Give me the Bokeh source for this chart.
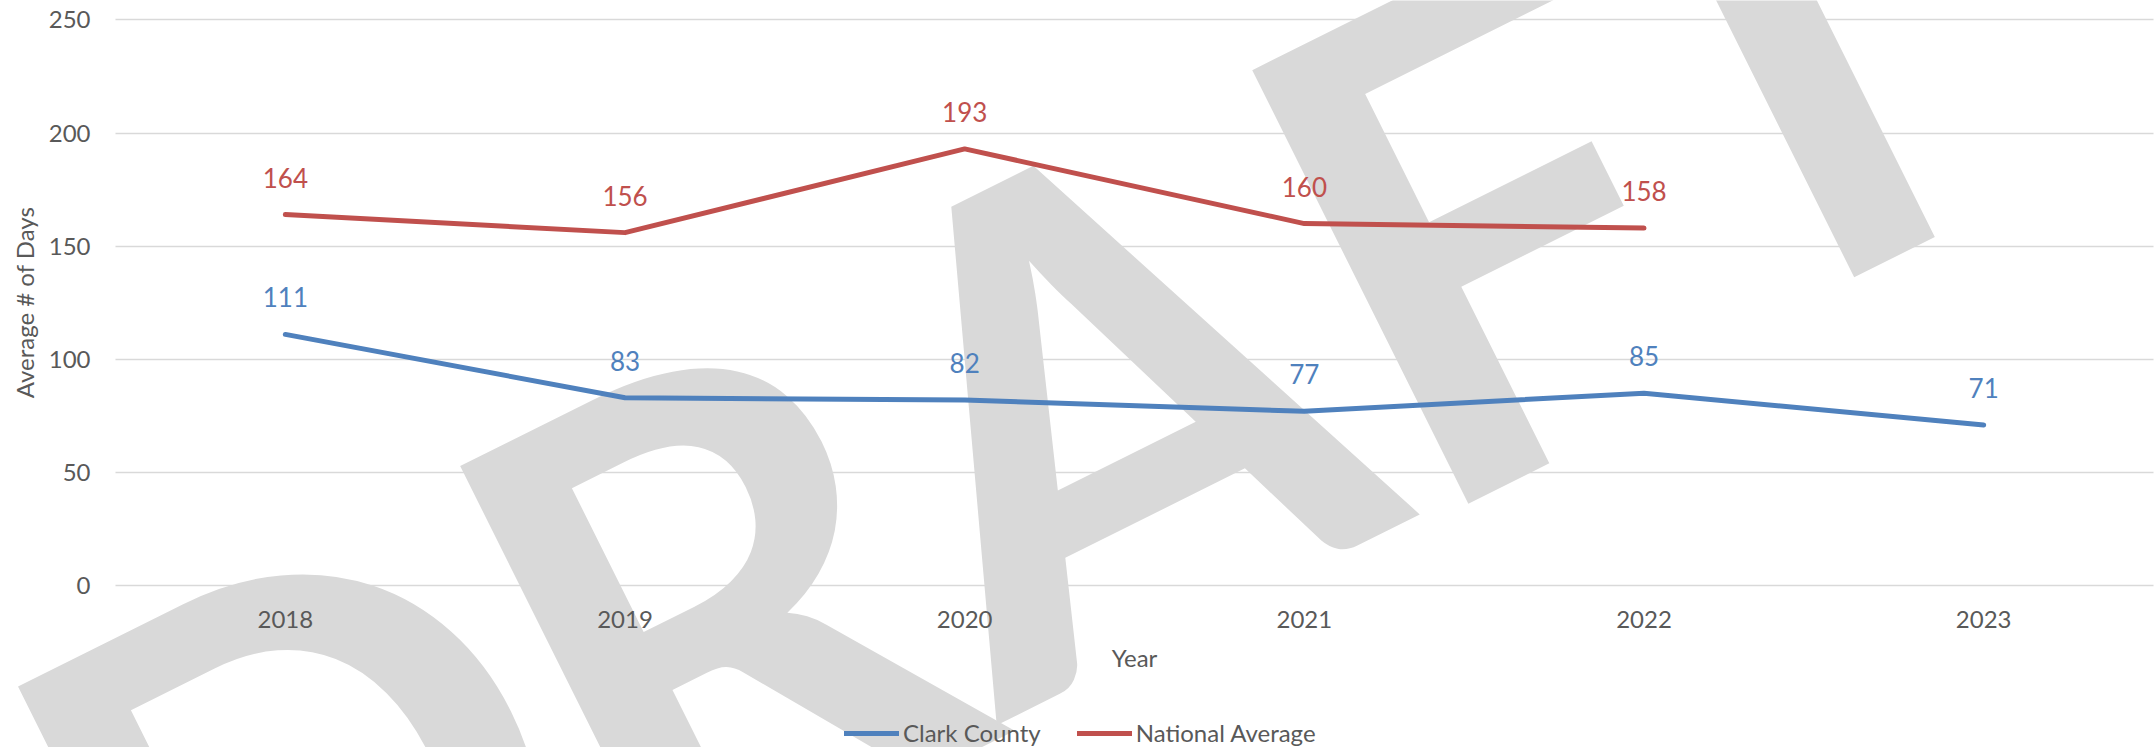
from bokeh.plotting import figure
from bokeh.models import (ColumnDataSource, Range1d, Legend, LegendItem,
                          Label, FixedTicker)
from bokeh.core.properties import value
from bokeh.embed import file_html
from bokeh.resources import INLINE

# ---------------- data ----------------
years = ["2018", "2019", "2020", "2021", "2022", "2023"]
clark_county = [111, 83, 82, 77, 85, 71]
national_years = ["2018", "2019", "2020", "2021", "2022"]
national_average = [164, 156, 193, 160, 158]
y_ticks = [0, 50, 100, 150, 200, 250]

# watermark (decoration): letters and their anchor points in data coordinates
wm_letters = ["D", "R", "A", "F", "T"]
wm_x = [0.038, 1.236, 2.377, 3.50, 4.397]
wm_y = [-94.2, -4.5, 87.3, 165.4, 247.6]

# ---------------- style ----------------
BLUE = "#4F81BD"
RED = "#C0504D"
GRID = "#D9D9D9"
TEXT = "#595959"
WM = "#D9D9D9"
FONT = "Lato"

x_index = {y: i for i, y in enumerate(years)}

p = figure(width=2155, height=747,
           x_range=Range1d(-0.8386, 5.5059),
           y_range=Range1d(-71.62, 258.62),
           output_backend="svg", toolbar_location=None,
           min_border_left=0, min_border_right=0,
           min_border_top=0, min_border_bottom=0)
p.outline_line_color = None
p.background_fill_color = "white"
p.border_fill_color = "white"

p.xgrid.grid_line_color = None
p.ygrid.grid_line_color = GRID
p.ygrid.grid_line_width = 1.3
p.ygrid.bounds = (-1, 251)
p.ygrid.cross_bounds = (-0.5, 5.5)

p.xaxis.ticker = FixedTicker(ticks=list(range(len(years))))
p.xaxis.major_label_overrides = {i: y for i, y in enumerate(years)}
p.yaxis.ticker = FixedTicker(ticks=y_ticks)
p.xaxis.fixed_location = 0
p.yaxis.fixed_location = -0.5
p.xaxis.bounds = (-0.5, 5.5)
p.yaxis.bounds = (0, 250)

for ax in (p.xaxis[0], p.yaxis[0]):
    ax.axis_line_color = None
    ax.major_tick_line_color = None
    ax.minor_tick_line_color = None
    ax.major_tick_out = 0
    ax.major_tick_in = 0
    ax.major_label_text_font = FONT
    ax.major_label_text_font_size = "24px"
    ax.major_label_text_color = TEXT
    ax.axis_label_text_font = FONT
    ax.axis_label_text_font_size = "24px"
    ax.axis_label_text_color = TEXT
    ax.axis_label_text_font_style = "normal"
    ax.level = "overlay"

p.xaxis.axis_label = "Year"
p.xaxis.major_label_standoff = 26
p.xaxis.axis_label_standoff = 11
p.yaxis.axis_label = "Average # of Days"
p.yaxis.major_label_standoff = 25
p.yaxis.axis_label_standoff = 7

# watermark, drawn above gridlines but below the data
for ch, wx, wy in zip(wm_letters, wm_x, wm_y):
    p.add_layout(Label(x=wx, y=wy, text=ch, angle=0.4625,
                       text_font=FONT, text_font_style="bold",
                       text_font_size="670px", text_color=WM,
                       text_align="center", text_baseline="middle",
                       level="annotation"))

src_c = ColumnDataSource(dict(x=[x_index[y] for y in years], y=clark_county,
                              lbl=[str(v) for v in clark_county]))
src_n = ColumnDataSource(dict(x=[x_index[y] for y in national_years],
                              y=national_average,
                              lbl=[str(v) for v in national_average]))

r_c = p.line("x", "y", source=src_c, line_color=BLUE, line_width=5,
             line_cap="round", line_join="round", level="overlay")
r_n = p.line("x", "y", source=src_n, line_color=RED, line_width=5,
             line_cap="round", line_join="round", level="overlay")

p.text("x", "y", text="lbl", source=src_c, text_color=BLUE,
       text_font=value(FONT), text_font_size="26px",
       text_align="center", text_baseline="middle", y_offset=-37,
       level="overlay")
p.text("x", "y", text="lbl", source=src_n, text_color=RED,
       text_font=value(FONT), text_font_size="26px",
       text_align="center", text_baseline="middle", y_offset=-37,
       level="overlay")

legend = Legend(items=[LegendItem(label="Clark County", renderers=[r_c]),
                       LegendItem(label="National Average", renderers=[r_n])],
                location=(844, 0), orientation="horizontal",
                padding=0, margin=0, spacing=36,
                glyph_width=55, glyph_height=20, label_standoff=4,
                label_text_font=FONT, label_text_font_size="24px",
                label_text_color=TEXT, border_line_alpha=0,
                background_fill_alpha=0, level="overlay")
p.add_layout(legend)

open("out.html", "w").write(file_html(p, INLINE))
